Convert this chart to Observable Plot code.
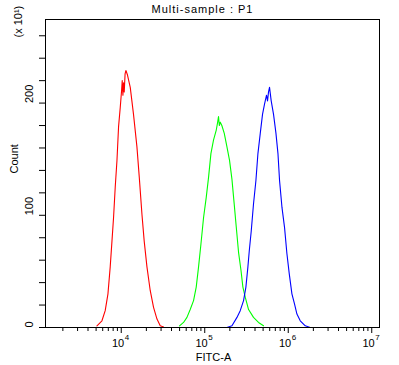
<!DOCTYPE html>
<html><head><meta charset="utf-8">
<script src="https://cdn.jsdelivr.net/npm/d3@7"></script>
<script src="https://cdn.jsdelivr.net/npm/@observablehq/plot@0.6"></script>
<style>body{margin:0;background:#fff} svg{display:block}</style>
</head><body><div id="chart"></div>
<script>
// log10(FITC-A) positions and counts (x10)
const redLog = [3.709,3.769,3.808,3.841,3.868,3.889,3.908,3.928,3.949,3.968,3.988,4.004,4.012,4.020,4.028,4.036,4.046,4.056,4.075,4.108,4.147,4.188,4.216,4.248,4.275,4.308,4.347,4.387,4.428,4.467,4.507];
const redCount = [1.5,6,15,30,54,77,98,125,149,179,196,211,220,207,218,210,226,229,225,214,190,161,134,101,77,54,33,18,7.5,1.5,0.5];
const greenLog = [4.698,4.746,4.787,4.826,4.866,4.898,4.926,4.954,4.986,5.018,5.046,5.074,5.105,5.138,5.155,5.165,5.175,5.186,5.205,5.234,5.266,5.297,5.326,5.353,5.377,5.405,5.434,5.457,5.485,5.525,5.584,5.644,5.704];
const greenCount = [1.5,4.5,9,16,24,36,54,74,98,116,134,155,167,176,183,188,180,183,180,173,161,149,132,110,90,67,51,36,27,16,9,4.5,1.5];
const blueLog = [5.266,5.326,5.386,5.425,5.465,5.493,5.517,5.533,5.557,5.584,5.613,5.637,5.665,5.692,5.716,5.740,5.752,5.764,5.776,5.796,5.824,5.853,5.877,5.896,5.925,5.956,5.984,6.012,6.044,6.075,6.104,6.144,6.204,6.263];
const blueCount = [0,1.5,9,15,24,36,54,68,86,110,131,155,173,190,199,207,202,210,214,202,190,173,155,131,107,89,66,48,30,21,12,6,1.5,0];

const yTicks = [0,20,40,60,80,100,120,140,160,180,200,220,240,260];
const yLabels = [0,100,200];
const xMajor = [1e4,1e5,1e6,1e7];
const xMajorExp = ["4","5","6","7"];
const xMinor = [2e3,3e3,4e3,5e3,6e3,7e3,8e3,9e3,2e4,3e4,4e4,5e4,6e4,7e4,8e4,9e4,2e5,3e5,4e5,5e5,6e5,7e5,8e5,9e5,2e6,3e6,4e6,5e6,6e6,7e6,8e6,9e6];
const title = "Multi-sample : P1";
const xTitle = "FITC-A";
const yTitle = "Count";
const yUnit = "(x 10\u00B9)";

const series = [
  {name: "red", color: "#ff0000", log: redLog, count: redCount},
  {name: "green", color: "#00ff00", log: greenLog, count: greenCount},
  {name: "blue", color: "#0000ff", log: blueLog, count: blueCount}
];
const rows = series.flatMap(s => s.log.map((e, i) => ({series: s.name, color: s.color, x: 10 ** e, y: s.count[i]})));

const chart = Plot.plot({
  width: 399, height: 365,
  marginLeft: 45, marginRight: 20, marginTop: 19, marginBottom: 38,
  style: {fontFamily: "'Liberation Sans', Arial, sans-serif", fontSize: "11px", background: "white", color: "black"},
  x: {type: "log", domain: [10 ** 3.093, 10 ** 7.093]},
  y: {domain: [0, 274.5]},
  color: {type: "identity"},
  marks: [
    Plot.axisX({ticks: xMinor, tickSize: 4, tickFormat: () => "", label: null}),
    Plot.axisX({ticks: xMajor, tickSize: 6, tickFormat: () => "", label: null}),
    Plot.axisY({ticks: yTicks, tickSize: 6, tickFormat: () => "", label: null}),
    Plot.text(xMajor, {x: d => d, frameAnchor: "bottom", text: () => "10", textAnchor: "end", dx: 3, dy: 19, lineAnchor: "bottom", fontSize: 11}),
    Plot.text(xMajor, {x: d => d, frameAnchor: "bottom", text: (d, i) => xMajorExp[i], textAnchor: "start", dx: 3.5, dy: 12, lineAnchor: "bottom", fontSize: 8}),
    Plot.text(yLabels, {y: d => d, frameAnchor: "left", text: d => String(d), rotate: -90, dx: -16, fontSize: 11}),
    Plot.text([yTitle], {frameAnchor: "left", rotate: -90, dx: -31, fontSize: 11}),
    Plot.text([yUnit], {frameAnchor: "top-left", rotate: -90, dx: -31, dy: 18, fontSize: 11}),
    Plot.text([xTitle], {frameAnchor: "bottom", dx: 1, dy: 33, lineAnchor: "bottom", fontSize: 11}),
    Plot.text([title], {frameAnchor: "top", dx: -10, dy: -7, lineAnchor: "bottom", fontSize: 11}),
    Plot.line(rows, {x: "x", y: "y", z: "series", stroke: "color", strokeWidth: 1.1}),
    Plot.frame({stroke: "black"})
  ]
});
d3.select(chart).selectAll("text").filter(function() { return this.textContent === title; }).attr("letter-spacing", "1");
document.getElementById("chart").appendChild(chart);
</script>
</body></html>
